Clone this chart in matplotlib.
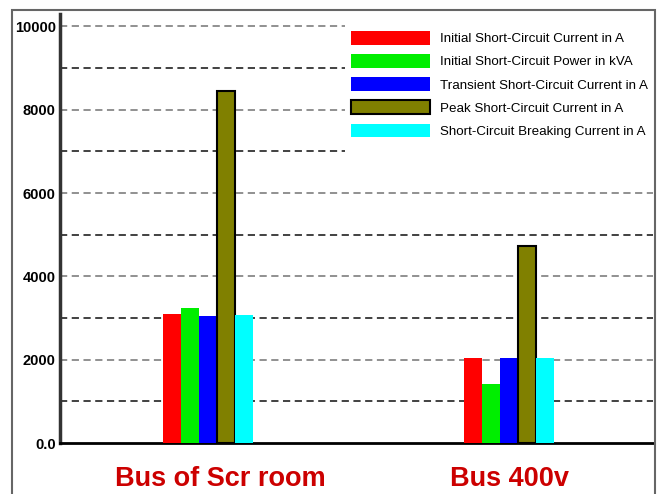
import numpy as np
import matplotlib
matplotlib.use("Agg")
import matplotlib.pyplot as plt
from matplotlib.patches import Rectangle
from matplotlib.transforms import blended_transform_factory

# ---------------------------------------------------------------------------
# Data
# ---------------------------------------------------------------------------
buses = ["Bus of Scr room", "Bus 400v"]
series = [
    "Initial Short-Circuit Current in A",
    "Initial Short-Circuit Power in kVA",
    "Transient Short-Circuit Current in A",
    "Peak Short-Circuit Current in A",
    "Short-Circuit Breaking Current in A",
]
initial_current = [3100, 2050]
initial_power = [3250, 1420]
transient_current = [3050, 2030]
peak_current = [8450, 4720]
breaking_current = [3070, 2040]
y_ticks = [0, 2000, 4000, 6000, 8000, 10000]
y_tick_labels = ["0.0", "2000", "4000", "6000", "8000", "10000"]

values = [initial_current, initial_power, transient_current,
          peak_current, breaking_current]
colors = ["#ff0000", "#00ee00", "#0000ff", "#808000", "#00ffff"]

font = ["Liberation Sans", "DejaVu Sans"]

# ---------------------------------------------------------------------------
# Figure
# ---------------------------------------------------------------------------
fig = plt.figure(figsize=(6.58, 4.94), dpi=100)
W, H = 658, 494
ax = fig.add_axes([60 / W, (H - 443) / H, 593 / W, 429 / H])

x = np.arange(len(buses))
width = 0.06
for i, (vals, col, lab) in enumerate(zip(values, colors, series)):
    edge = "black" if i == 3 else col
    ax.bar(x + (i - 2) * width, vals, width, color=col, edgecolor=edge,
           linewidth=1.5 if i == 3 else 0, label=lab, zorder=3)

# dashed grid every 1000, odd thousands darker
for yv in range(1000, 10001, 1000):
    c = "#333333" if (yv // 1000) % 2 else "#888888"
    ax.axhline(yv, color=c, lw=1.3, ls=(0, (4, 2.5)), zorder=1)

ax.set_xlim(-0.492, 1.478)
ax.set_ylim(0, 10300)
ax.set_yticks(y_ticks)
ax.set_yticklabels(y_tick_labels, fontsize=10.5, fontweight="bold",
                   family=font)
ax.tick_params(axis="y", length=0, pad=3)
ax.set_xticks([])

# category labels sit a little off the group centres in the original
trans = blended_transform_factory(ax.transData, ax.transAxes)
for xi, name, dx in zip(x, buses, [0.04, 0.0]):
    ax.text(xi + dx, -0.1, name, transform=trans, ha="center",
            va="baseline", fontsize=19.5, fontweight="bold",
            color="#cc0000", family=font)

for s in ["top", "right"]:
    ax.spines[s].set_visible(False)
ax.spines["left"].set_linewidth(2.5)
ax.spines["left"].set_color("#333333")
ax.spines["bottom"].set_linewidth(2)

# white block behind the legend hides the grid lines there
fig.patches.append(Rectangle((345 / W, 1 - 160 / H), 308 / W, 142 / H,
                             transform=fig.transFigure, facecolor="white",
                             edgecolor="none", zorder=1))

leg = fig.legend(loc="upper left", bbox_to_anchor=(351 / W, 1 - 31 / H),
                 frameon=False, prop={"family": font, "size": 9.6},
                 handlelength=5.9, handleheight=1.2, labelspacing=0.66,
                 handletextpad=0.8, borderpad=0, borderaxespad=0)
leg.set_zorder(5)

# outer frame
fig.patches.append(Rectangle((12 / W, -0.01), (655 - 12) / W, 1 - 10 / H + 0.01,
                             transform=fig.transFigure, fill=False,
                             edgecolor="#666666", lw=1.5, zorder=2))

fig.savefig("out.png", dpi=100)
